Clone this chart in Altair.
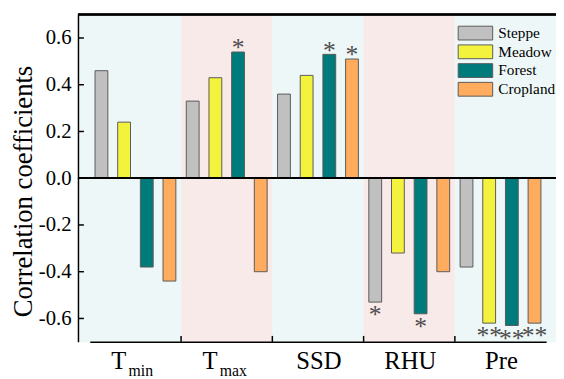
import altair as alt
import pandas as pd

variables = ["Tmin", "Tmax", "SSD", "RHU", "Pre"]
label_main = ["T", "T", "SSD", "RHU", "Pre"]
label_sub = ["min", "max", "", "", ""]
series = ["Steppe", "Meadow", "Forest", "Cropland"]
steppe = [0.46, 0.33, 0.36, -0.53, -0.38]
meadow = [0.24, 0.43, 0.44, -0.32, -0.62]
forest = [-0.38, 0.54, 0.53, -0.58, -0.63]
cropland = [-0.44, -0.40, 0.51, -0.40, -0.62]
steppe_sig = ["", "", "", "*", ""]
meadow_sig = ["", "", "", "", "**"]
forest_sig = ["", "*", "*", "*", "**"]
cropland_sig = ["", "", "*", "", "**"]
colors = ["#c0c0c0", "#f3f33e", "#007b7b", "#ffac5f"]
shaded = ["Tmax", "RHU"]
y_ticks = [-0.6, -0.4, -0.2, 0.0, 0.2, 0.4, 0.6]
x_tick_at = ["Tmax", "SSD", "RHU", "Pre"]

W, H = 485, 332
FONT = "Liberation Serif"

rows = []
for s, vals, sigs in zip(series, [steppe, meadow, forest, cropland],
                         [steppe_sig, meadow_sig, forest_sig, cropland_sig]):
    for v, val, sg in zip(variables, vals, sigs):
        rows.append({"var": v, "series": s, "value": val, "sig": sg})
df = pd.DataFrame(rows)
lab = pd.DataFrame({"var": variables, "main": label_main, "sub": label_sub})
shade_df = pd.DataFrame({"var": shaded})
tick_df = pd.DataFrame({"t": y_ticks})
xt_df = pd.DataFrame({"var": x_tick_at})

xscale = alt.Scale(domain=variables, range=[12, 475], paddingInner=0, paddingOuter=0)
yscale = alt.Scale(domain=[-0.7, 0.7], nice=False)

X = alt.X("var:N", sort=variables, scale=xscale,
          axis=alt.Axis(title=None, labels=False, ticks=False, domain=True,
                        domainColor="black", domainWidth=1.5))

bg = alt.Chart(shade_df).mark_rect(color="#f9eaea").encode(
    x=X, y=alt.value(0), y2=alt.value(H))

bars = alt.Chart(df).mark_bar(stroke="#5a5a5a", strokeWidth=1).encode(
    x=X,
    xOffset=alt.XOffset("series:N", sort=series,
                        scale=alt.Scale(domain=series, paddingInner=0.435, paddingOuter=0.23)),
    y=alt.Y("value:Q", scale=yscale,
            axis=alt.Axis(values=y_ticks, ticks=False, grid=False, domain=True,
                          domainColor="black", domainWidth=1.5,
                          labelExpr="datum.value < -0.001 ? '-' + format(-datum.value, '.1f') : format(datum.value, '.1f')",
                          labelFont=FONT, labelFontSize=21, labelColor="black", labelPadding=7,
                          title="Correlation coefficients", titleFont=FONT, titleFontSize=27,
                          titleFontWeight="normal", titleColor="black",
                          titleX=-55, titleY=179, titleAngle=270, titleBaseline="middle",
                          titleAlign="center")),
    y2=alt.Y2(datum=0),
    color=alt.Color("series:N", sort=series, scale=alt.Scale(domain=series, range=colors),
                    legend=alt.Legend(orient="none", legendX=395.5, legendY=11, title=None,
                                      labelFont=FONT, labelFontSize=15.5, labelColor="black",
                                      symbolType="M-2.5,-1H2.5V1H-2.5Z", symbolSize=196,
                                      symbolStrokeColor="#5a5a5a", symbolStrokeWidth=1,
                                      labelOffset=15.5, rowPadding=0, labelLimit=200)),
)

zero = alt.Chart(tick_df).mark_rule(color="black", strokeWidth=1.5).encode(
    y=alt.Y(datum=0, scale=yscale), x=alt.value(0), x2=alt.value(W))
top = alt.Chart(tick_df).mark_rule(color="black", strokeWidth=1.5).encode(
    y=alt.value(0), x=alt.value(0), x2=alt.value(W))
yt = alt.Chart(tick_df).mark_rule(color="black", strokeWidth=1.5).encode(
    y=alt.Y("t:Q", scale=yscale), x=alt.value(0), x2=alt.value(6))
xt = alt.Chart(xt_df).mark_rule(color="black", strokeWidth=1.5).encode(
    x=alt.X("var:N", sort=variables, scale=xscale, bandPosition=0),
    y=alt.value(H - 6), y2=alt.value(H))

off = alt.XOffset("series:N", sort=series,
                  scale=alt.Scale(domain=series, paddingInner=0.435, paddingOuter=0.23))
sig_pos = alt.Chart(df).transform_filter("datum.sig != '' && datum.value > 0").mark_text(
    font=FONT, fontSize=26, color="#4d4d4d", baseline="alphabetic", dy=4.5).encode(
    x=X, xOffset=off, y=alt.Y("value:Q", scale=yscale), text="sig:N")
sig_neg = alt.Chart(df).transform_filter("datum.sig != '' && datum.value < 0").mark_text(
    font=FONT, fontSize=26, color="#4d4d4d", baseline="alphabetic", dy=21.5).encode(
    x=X, xOffset=off, y=alt.Y("value:Q", scale=yscale), text="sig:N")

lab_plain = alt.Chart(lab).transform_filter("datum.sub == ''").mark_text(
    font=FONT, fontSize=25, color="black", baseline="alphabetic", dx=1).encode(
    x=X, y=alt.value(360), text="main:N")
lab_t = alt.Chart(lab).transform_filter("datum.sub != ''").mark_text(
    font=FONT, fontSize=25, color="black", baseline="alphabetic", dx=-17).encode(
    x=X, y=alt.value(360), text="main:N")
lab_sub = alt.Chart(lab).transform_filter("datum.sub != ''").mark_text(
    font=FONT, fontSize=16, color="black", baseline="alphabetic", align="left", dx=-7).encode(
    x=X, y=alt.value(367), text="sub:N")

chart = alt.layer(bg, bars, zero, top, yt, xt, sig_pos, sig_neg, lab_plain, lab_t, lab_sub).properties(
    width=W, height=H,
    autosize=alt.AutoSizeParams(type="none"),
    padding={"left": 71, "top": 4, "right": 0, "bottom": 35},
).configure(font=FONT).configure_view(fill="#eef7f7", stroke="transparent"
).configure_axis(labelFont=FONT, titleFont=FONT).configure_legend(labelFont=FONT)

chart.save("out.html", embed_options={"renderer": "svg", "actions": False})
